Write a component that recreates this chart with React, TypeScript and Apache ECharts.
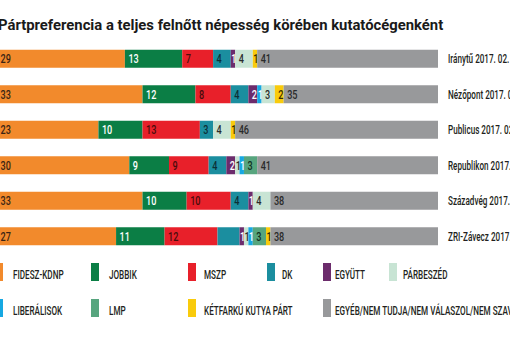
import React, { useEffect, useRef } from "react";
import * as echarts from "echarts";

const titleText = "Pártpreferencia a teljes felnőtt népesség körében kutatócégenként";
const pollsters = [
  "Iránytű 2017. 02.",
  "Nézőpont 2017. 02.",
  "Publicus 2017. 02.",
  "Republikon 2017. 02.",
  "Századvég 2017. 02.",
  "ZRI-Závecz 2017. 02.",
];
const fidesz = [29, 33, 23, 30, 33, 27];
const jobbik = [13, 12, 10, 9, 10, 11];
const mszp = [7, 8, 13, 9, 10, 12];
const dk = [4, 4, 3, 4, 4, 5];
const dkShowLabel = [true, true, true, true, true, false];
const egyutt = [1, 2, 0, 2, 1, 1];
const parbeszedA = [4, 0, 4, 1, 4, 1];
const liberalisok = [0, 1, 0, 1, 0, 1];
const parbeszedB = [0, 3, 0, 0, 0, 0];
const lmp = [0, 0, 0, 3, 0, 3];
const ketfarku = [1, 2, 1, 0, 0, 1];
const egyeb = [41, 35, 46, 41, 38, 38];

const legendRow1 = ["FIDESZ-KDNP", "JOBBIK", "MSZP", "DK", "EGYÜTT", "PÁRBESZÉD"];
const legendRow2 = ["LIBERÁLISOK", "LMP", "KÉTFARKÚ KUTYA PÁRT", "EGYÉB/NEM TUDJA/NEM VÁLASZOL/NEM SZAVAZ"];

const FONT = "Roboto, 'DejaVu Sans', sans-serif";
const TEXT = "#231f20";

const C: Record<string, string> = {
  "FIDESZ-KDNP": "#f28a2c",
  JOBBIK: "#0b7e45",
  MSZP: "#e8202a",
  DK: "#1b8e9f",
  "EGYÜTT": "#6c2c6c",
  "PÁRBESZÉD": "#c8e4d4",
  "LIBERÁLISOK": "#16a8e2",
  LMP: "#57a57e",
  "KÉTFARKÚ KUTYA PÁRT": "#f9cb0c",
  "EGYÉB/NEM TUDJA/NEM VÁLASZOL/NEM SZAVAZ": "#98999b",
};

export default function App() {
  const ref = useRef<HTMLDivElement>(null);
  useEffect(() => {
    const chart = echarts.init(ref.current!, undefined, { renderer: "svg" });

    const defs = [
      { name: "FIDESZ-KDNP", data: fidesz, lc: "#3a2414" },
      { name: "JOBBIK", data: jobbik, lc: "#ffffff" },
      { name: "MSZP", data: mszp, lc: "#4a0c0c" },
      { name: "DK", data: dk, lc: "#0b2f36", show: dkShowLabel },
      { name: "EGYÜTT", data: egyutt, lc: "#ffffff" },
      { name: "PÁRBESZÉD", data: parbeszedA, lc: "#2a2a2a" },
      { name: "LIBERÁLISOK", data: liberalisok, lc: "#ffffff" },
      { name: "PÁRBESZÉD", data: parbeszedB, lc: "#2a2a2a" },
      { name: "LMP", data: lmp, lc: "#10301f" },
      { name: "KÉTFARKÚ KUTYA PÁRT", data: ketfarku, lc: "#3a2c00" },
      { name: "EGYÉB/NEM TUDJA/NEM VÁLASZOL/NEM SZAVAZ", data: egyeb, lc: "#2a2a2a" },
    ] as { name: string; data: number[]; lc: string; show?: boolean[] }[];

    // segment label items: [start, row, value, defIndex]
    const labelItems: number[][] = [];
    pollsters.forEach((_, i) => {
      let cum = 0;
      defs.forEach((d, k) => {
        const v = d.data[i];
        if (v > 0 && (!d.show || d.show[i])) labelItems.push([cum, i, v, k]);
        cum += v;
      });
    });

    const barSeries = defs.map((d) => ({
      name: d.name,
      type: "bar",
      stack: "all",
      barWidth: 18,
      data: d.data,
      itemStyle: { color: C[d.name] },
      emphasis: { disabled: true },
    }));

    const SX = 0.65;

    const legendGraphics: any[] = [];
    const row1Marker = [-5, 91, 188, 267, 323, 389];
    const row1Text = [13, 109, 204, 282, 335, 403];
    const row2Marker = [-5, 91, 188, 323];
    const row2Text = [13, 109, 204, 335];
    const addLegend = (names: string[], mx: number[], tx: number[], top: number) => {
      names.forEach((n, i) => {
        legendGraphics.push({
          type: "rect",
          shape: { x: mx[i], y: top, width: 8, height: 18 },
          style: { fill: C[n] },
        });
        legendGraphics.push({
          type: "text",
          x: tx[i],
          y: top + 18,
          scaleX: SX,
          style: {
            text: n,
            fontFamily: FONT,
            fontSize: 12.5,
            fontWeight: 500,
            fill: TEXT,
            verticalAlign: "bottom",
            align: "left",
          },
        });
      });
    };
    addLegend(legendRow1, row1Marker, row1Text, 263);
    addLegend(legendRow2, row2Marker, row2Text, 299);

    chart.setOption({
      animation: false,
      grid: { left: -3, right: 72, top: 41, bottom: 96, containLabel: false, outerBoundsMode: "none" },
      xAxis: { type: "value", min: 0, max: 100, show: false },
      yAxis: {
        type: "category",
        data: pollsters,
        inverse: true,
        show: false,
      },
      graphic: [
        {
          type: "text",
          x: -2,
          y: 25,
          scaleX: 0.99,
          style: {
            text: titleText,
            fontFamily: FONT,
            fontSize: 15,
            fontWeight: "bold",
            fill: "#1a1a1a",
            verticalAlign: "middle",
          },
        },
        ...legendGraphics,
      ],
      series: [
        ...barSeries,
        {
          type: "custom",
          name: "labels",
          z: 5,
          data: labelItems,
          encode: { x: 0, y: 1 },
          renderItem: (params: any, api: any) => {
            const d = defs[api.value(3)];
            const v = api.value(2);
            const pt = api.coord([api.value(0), api.value(1)]);
            return {
              type: "text",
              x: pt[0] + (v === 1 ? 0.5 : 3.5),
              y: pt[1] + 0.5,
              scaleX: 0.7,
              style: {
                text: String(v),
                fill: d.lc,
                fontFamily: FONT,
                fontSize: 13,
                fontWeight: 500,
                verticalAlign: "middle",
                align: "left",
              },
            };
          },
        },
        {
          type: "custom",
          name: "pollsters",
          z: 5,
          data: pollsters.map((_, i) => [100, i]),
          encode: { x: 0, y: 1 },
          renderItem: (params: any, api: any) => {
            const pt = api.coord([api.value(0), api.value(1)]);
            return {
              type: "text",
              x: pt[0] + 10,
              y: pt[1] + 0.5,
              scaleX: SX,
              style: {
                text: pollsters[params.dataIndex],
                fill: TEXT,
                fontFamily: FONT,
                fontSize: 12.5,
                fontWeight: 500,
                verticalAlign: "middle",
                align: "left",
              },
            };
          },
        },
      ],
    });
    return () => {
      chart.dispose();
    };
  }, []);
  return (
    <div
      ref={ref}
      style={{ position: "absolute", left: 0, top: 0, width: 510, height: 350, background: "#ffffff", overflow: "hidden" }}
    />
  );
}
